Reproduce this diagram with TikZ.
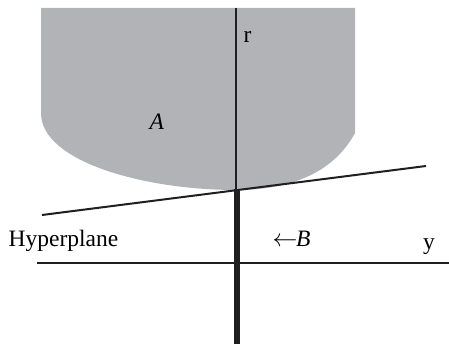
\documentclass[tikz,border=0pt]{standalone}
\usepackage{fontspec}
\setmainfont{Liberation Serif}
\begin{document}
\begin{tikzpicture}[x=1pt,y=-1pt,
  lbl/.style={anchor=base west,inner sep=0pt,font=\fontsize{23.5}{28}\selectfont},
  thinline/.style={draw=black!88,line width=2pt},
  thickline/.style={draw=black!88,line width=6pt}]
\useasboundingbox (0,0) rectangle (449,344);
\definecolor{regiongray}{RGB}{178,179,182}
% region A
\fill[regiongray] (41,8) -- (41,113) .. controls (41,162) and (145,190) .. (236,190)
  .. controls (295,190) and (335,170) .. (355,133) -- (355,8) -- cycle;
% coordinates
\coordinate (rtop) at (236,8);
\coordinate (o) at (236,190);
\coordinate (thtop) at (237,189);
\coordinate (rbot) at (237,344);
\coordinate (hl) at (42,215);
\coordinate (hr) at (426,166);
\coordinate (yl) at (37,263);
\coordinate (yr) at (449,263);
% lines
\draw[thinline] (rtop) -- (o);
\draw[thickline] (thtop) -- (rbot);
\draw[thinline] (hl) -- (hr);
\draw[thinline] (yl) -- (yr);
% labels
\node[lbl] (r) at (243.5,42.5) {r};
\node[lbl] (A) at (149.5,130) {\textit{A}};
\node[lbl] (hyp) at (8.5,246.5) {Hyperplane};
\node[lbl] (B) at (272.5,246.5) {$\leftarrow$\kern-1.5pt\textit{B}};
\node[lbl] (y) at (423,250) {y};
\end{tikzpicture}
\end{document}
